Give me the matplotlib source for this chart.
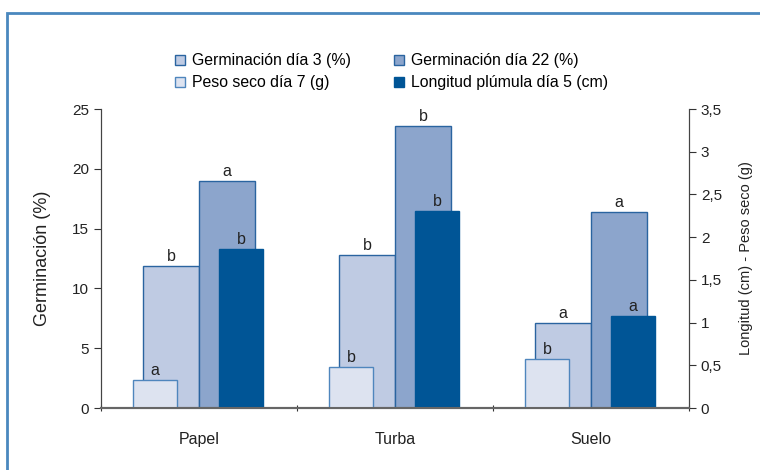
import numpy as np
import matplotlib
matplotlib.use("Agg")
from matplotlib import pyplot as plt
from matplotlib.patches import Rectangle, Patch

plt.rcParams['font.family'] = ['Liberation Sans', 'DejaVu Sans']

categorias = ["Papel", "Turba", "Suelo"]
germ_d3 = [11.9, 12.8, 7.1]
germ_d22 = [19.0, 23.6, 16.4]
peso_d7 = [0.33, 0.48, 0.57]
long_d5 = [1.86, 2.31, 1.08]
letras_d3 = ["b", "b", "a"]
letras_d22 = ["a", "b", "a"]
letras_peso = ["a", "b", "b"]
letras_long = ["b", "b", "a"]

c_d3 = "#bfcbe3"
c_d22 = "#8ca5cc"
c_peso = "#dde3f0"
c_long = "#005596"
borde = "#2a64a0"
texto = "#222222"

fig = plt.figure(figsize=(7.6, 4.7), dpi=100)
ax = fig.add_axes([0.1329, 0.1319, 0.7737, 0.636])
ax2 = ax.twinx()

x = np.arange(len(categorias))
w_g = 0.285
w_s = 0.225

b1 = ax.bar(x - w_g, germ_d3, width=w_g, align="edge", color=c_d3,
            edgecolor=borde, linewidth=1)
b2 = ax.bar(x, germ_d22, width=w_g, align="edge", color=c_d22,
            edgecolor=borde, linewidth=1)
b3 = ax2.bar(x - 0.337, peso_d7, width=w_s, align="edge", color=c_peso,
             edgecolor="#4f86bd", linewidth=1)
b4 = ax2.bar(x + 0.102, long_d5, width=w_s, align="edge", color=c_long,
             edgecolor=c_long, linewidth=1)

for bars, letras, eje in [(b1, letras_d3, ax), (b2, letras_d22, ax),
                          (b3, letras_peso, ax2), (b4, letras_long, ax2)]:
    for rect, l in zip(bars, letras):
        eje.annotate(l, (rect.get_x() + rect.get_width() / 2, rect.get_height()),
                     xytext=(0, 1.5), textcoords="offset points",
                     ha="center", va="bottom", fontsize=11.5, color=texto)

ax.set_xlim(-0.5, 2.5)
ax.set_ylim(0, 25)
ax2.set_ylim(0, 3.5)
ax.set_yticks(range(0, 26, 5))
ax2.set_yticks(np.arange(0, 3.6, 0.5))
ax2.set_yticklabels(["0", "0,5", "1", "1,5", "2", "2,5", "3", "3,5"])

ax.set_xticks([-0.5, 0.5, 1.5, 2.5])
ax.set_xticklabels([])
ax.set_xticks(x, minor=True)
ax.set_xticklabels(categorias, minor=True)
ax.tick_params(axis="x", which="minor", length=0, pad=17, labelsize=11.5,
               labelcolor=texto)
ax.tick_params(axis="x", which="major", length=5, direction="inout", color="#333333")
ax.tick_params(axis="y", length=5, color="#333333", labelsize=11, labelcolor=texto)
ax2.tick_params(axis="y", length=5, color="#333333", labelsize=11, labelcolor=texto)

for a in (ax, ax2):
    a.spines["top"].set_visible(False)
    a.spines["left"].set_color("#444444")
    a.spines["right"].set_color("#444444")
    a.spines["bottom"].set_color("#666666")
    a.spines["bottom"].set_linewidth(1.5)

ax.set_ylabel("Germinación (%)", fontsize=13, color=texto, labelpad=15)
ax2.set_ylabel("Longitud (cm) - Peso seco (g)", fontsize=10.5, color=texto,
               labelpad=12)

handles = [Patch(facecolor=c_d3, edgecolor=borde),
           Patch(facecolor=c_peso, edgecolor="#4f86bd"),
           Patch(facecolor=c_d22, edgecolor=borde),
           Patch(facecolor=c_long, edgecolor=c_long)]
nombres = ["Germinación día 3 (%)", "Peso seco día 7 (g)",
           "Germinación día 22 (%)", "Longitud plúmula día 5 (cm)"]
fig.legend(handles, nombres, ncol=2, loc="center", bbox_to_anchor=(0.515, 0.847),
           frameon=False, fontsize=11.4, handlelength=0.65, handleheight=0.65,
           handletextpad=0.45, columnspacing=2.7, labelspacing=0.45)

fig.patches.append(Rectangle((7 / 760, -0.1), 1.2, 1 - 13 / 470 + 0.1,
                             transform=fig.transFigure, fill=False,
                             edgecolor="#4a88be", linewidth=2))

fig.savefig("out.png", dpi=100)
